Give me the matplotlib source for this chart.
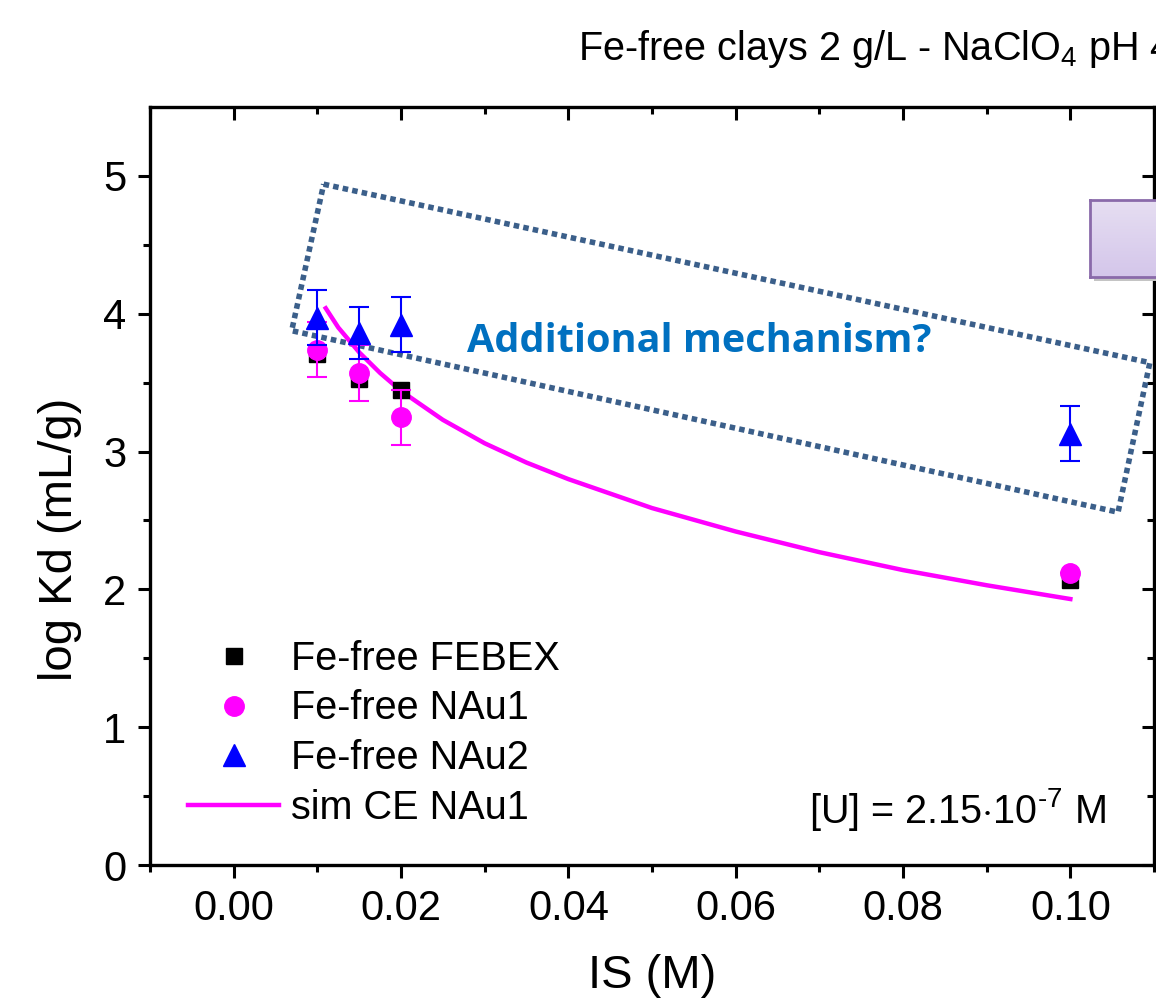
import numpy as np
import matplotlib.pyplot as plt
from matplotlib.lines import Line2D
from matplotlib.colors import LinearSegmentedColormap

plt.rcParams['font.family'] = ['Liberation Sans', 'DejaVu Sans']
plt.rcParams['mathtext.fontset'] = 'custom'
plt.rcParams['mathtext.rm'] = 'Liberation Sans'

# measured data: ionic strength (M) vs log Kd (mL/g)
is_febex = [0.01, 0.015, 0.02, 0.10]
kd_febex = [3.71, 3.53, 3.45, 2.07]

is_nau1 = [0.01, 0.015, 0.02, 0.10]
kd_nau1 = [3.74, 3.57, 3.25, 2.12]
err_nau1 = [0.20, 0.20, 0.20, 0.0]

is_nau2 = [0.01, 0.015, 0.02, 0.10]
kd_nau2 = [3.97, 3.86, 3.92, 3.13]
err_nau2 = [0.20, 0.19, 0.20, 0.20]

# cation exchange simulation for NAu1
is_sim = [0.011, 0.0125, 0.015, 0.0175, 0.02, 0.025, 0.03, 0.035, 0.04,
          0.05, 0.06, 0.07, 0.08, 0.09, 0.10]
kd_sim = [4.04, 3.90, 3.72, 3.57, 3.44, 3.23, 3.06, 2.92, 2.80,
          2.59, 2.42, 2.27, 2.14, 2.03, 1.93]

# dotted box corners (data coords)
box_x = [0.01075, 0.1095, 0.1057, 0.00693, 0.01075]
box_y = [4.94, 3.645, 2.56, 3.877, 4.94]

fig = plt.figure(figsize=(11.56, 10.02), dpi=100)
ax = fig.add_axes([0.1298, 0.1367, 0.8685, 0.7565])

ax.plot(box_x, box_y, color='#3b5f8a', lw=4.0, linestyle=(0, (1, 0.75)),
        solid_capstyle='butt', dash_capstyle='butt', zorder=1)

ax.plot(is_sim, kd_sim, color='#ff00ff', lw=3.2, zorder=2)

ax.errorbar(is_febex, kd_febex, fmt='s', color='black', ms=12, zorder=3)
ax.errorbar(is_nau1, kd_nau1, yerr=err_nau1, fmt='o', color='#ff00ff',
            ms=14, elinewidth=1.5, capsize=7, capthick=1.5, zorder=4)
ax.errorbar(is_nau2, kd_nau2, yerr=err_nau2, fmt='^', color='#0000ff',
            ms=16, elinewidth=1.5, capsize=7, capthick=1.5, zorder=5)

ax.set_xlim(-0.01, 0.11)
ax.set_ylim(0, 5.5)
ax.set_xticks([0.0, 0.02, 0.04, 0.06, 0.08, 0.10])
ax.set_xticklabels(['0.00', '0.02', '0.04', '0.06', '0.08', '0.10'])
ax.set_xticks(np.arange(-0.01, 0.111, 0.02), minor=True)
ax.set_yticks([0, 1, 2, 3, 4, 5])
ax.set_yticks(np.arange(0.5, 5.5, 1.0), minor=True)

for s in ax.spines.values():
    s.set_linewidth(2.4)
ax.tick_params(which='both', direction='out', width=2.2, labelsize=30,
               top=False, right=False, pad=8)
ax.tick_params(which='major', length=9)
ax.tick_params(which='minor', length=5)

# mirrored inward ticks on top/right
sec_x = ax.secondary_xaxis('top')
sec_x.set_xticks([0.0, 0.02, 0.04, 0.06, 0.08, 0.10])
sec_x.set_xticks(np.arange(-0.01, 0.111, 0.02), minor=True)
sec_x.tick_params(which='both', direction='in', width=2.2, labeltop=False)
sec_x.tick_params(which='major', length=9)
sec_x.tick_params(which='minor', length=5)
sec_y = ax.secondary_yaxis('right')
sec_y.set_yticks([0, 1, 2, 3, 4, 5])
sec_y.set_yticks(np.arange(0.5, 5.5, 1.0), minor=True)
sec_y.tick_params(which='both', direction='in', width=2.2, labelright=False)
sec_y.tick_params(which='major', length=9)
sec_y.tick_params(which='minor', length=5)

ax.set_xlabel('IS (M)', fontsize=34, labelpad=18)
ax.set_ylabel('log Kd (mL/g)', fontsize=34)
ax.yaxis.set_label_coords(-0.068, 0.43)

handles = [
    Line2D([], [], marker='s', color='black', ls='none', ms=12),
    Line2D([], [], marker='o', color='#ff00ff', ls='none', ms=14),
    Line2D([], [], marker='^', color='#0000ff', ls='none', ms=16),
    Line2D([], [], color='#ff00ff', lw=3.2),
]
labels = ['Fe-free FEBEX', 'Fe-free NAu1', 'Fe-free NAu2', 'sim CE NAu1']
ax.legend(handles, labels, loc='lower left', bbox_to_anchor=(0.038, 0.05),
          frameon=False, fontsize=28.5, handlelength=2.3, handletextpad=0.3,
          labelspacing=0.3, borderaxespad=0, borderpad=0)

ax.text(0.952, 0.055, r'[U] = 2.15$\cdot$10$^{\text{-7}}$ M', transform=ax.transAxes,
        fontsize=28.5, ha='right', va='baseline')

ax.text(0.0556, 3.80, 'Additional mechanism?', fontsize=28.5, fontweight='bold',
        family='Open Sans', color='#0070c0', ha='center', va='center')

# slide title, cut off at the right edge like the source crop
fig.text(0.5, 0.94, r'Fe-free clays 2 g/L - NaClO$_4$ pH 4', fontsize=28.5,
         ha='left', va='baseline')

# purple callout box peeking in from the right
sh = fig.add_axes([0.946, 0.7195, 0.08, 0.0768])
sh.set_facecolor('#c4c4c4')
sh.set_xticks([]); sh.set_yticks([])
for s in sh.spines.values():
    s.set_visible(False)
bx = fig.add_axes([0.943, 0.7236, 0.08, 0.0768])
grad = np.linspace(0, 1, 50).reshape(-1, 1)
bx.imshow(grad, aspect='auto', extent=[0, 1, 0, 1],
          cmap=LinearSegmentedColormap.from_list('lav', ['#e6def2', '#d4c6ea']))
bx.set_xticks([]); bx.set_yticks([])
for s in bx.spines.values():
    s.set_color('#8a6aaa')
    s.set_linewidth(2)

fig.savefig('out.png', dpi=100)
